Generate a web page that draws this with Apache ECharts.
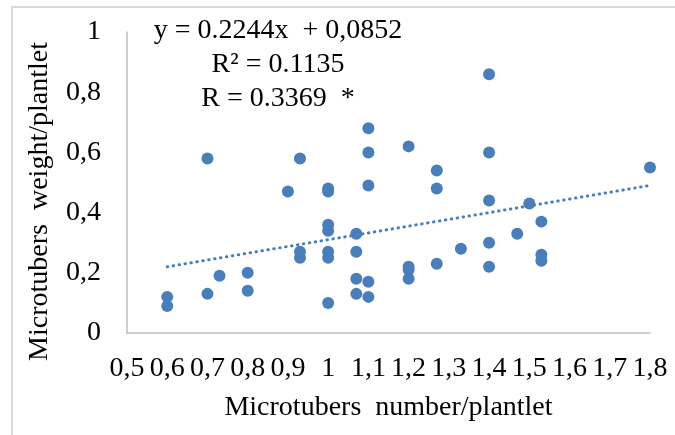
<!DOCTYPE html>
<html>
<head>
<meta charset="utf-8">
<script src="https://cdn.jsdelivr.net/npm/echarts@6/dist/echarts.min.js"></script>
<style>
  html, body { margin: 0; padding: 0; background: #fff; }
  #chart { width: 675px; height: 435px; }
</style>
</head>
<body>
<div id="chart"></div>
<script>
// microtubers number (x) vs weight (y) per plantlet
const numberPerPlantlet = [
  0.6, 0.6, 0.7, 0.7, 0.73, 0.8, 0.8, 0.9, 0.93, 0.93, 0.93,
  1.0, 1.0, 1.0, 1.0, 1.0, 1.0, 1.0,
  1.07, 1.07, 1.07, 1.07, 1.1, 1.1, 1.1, 1.1, 1.1,
  1.2, 1.2, 1.2, 1.2, 1.27, 1.27, 1.27, 1.33,
  1.4, 1.4, 1.4, 1.4, 1.4, 1.47, 1.5, 1.53, 1.53, 1.53, 1.8
];
const weightPerPlantlet = [
  0.12, 0.09, 0.58, 0.13, 0.19, 0.2, 0.14, 0.47, 0.58, 0.27, 0.25,
  0.48, 0.47, 0.36, 0.34, 0.27, 0.25, 0.1,
  0.33, 0.27, 0.18, 0.13, 0.68, 0.6, 0.49, 0.17, 0.12,
  0.62, 0.22, 0.21, 0.18, 0.54, 0.48, 0.23, 0.28,
  0.86, 0.6, 0.44, 0.3, 0.22, 0.33, 0.43, 0.37, 0.26, 0.24, 0.55
];
// linear trend line ends
const trendX = [0.6, 1.8];
const trendY = [0.22, 0.49];
const equationLines = ["y = 0.2244x  + 0,0852", "R² = 0.1135", "R = 0.3369  *"];

const blue = "#4A7EBB";
const font = "Liberation Serif";

const points = numberPerPlantlet.map((x, i) => [x, weightPerPlantlet[i]]);
const trend = trendX.map((x, i) => [x, trendY[i]]);
const comma = (v) => String(Math.round(v * 10) / 10).replace(".", ",");

const myChart = echarts.init(document.getElementById("chart"));
myChart.setOption({
  animation: false,
  backgroundColor: "#fff",
  grid: { left: 127, right: 25, top: 32, bottom: 102 },
  xAxis: {
    type: "value",
    min: 0.5,
    max: 1.8,
    interval: 0.1,
    name: "Microtubers  number/plantlet",
    nameLocation: "middle",
    nameGap: 61,
    nameTextStyle: { fontFamily: font, fontSize: 28, color: "#000" },
    axisLine: { lineStyle: { color: "#BFBFBF", width: 1.5 } },
    axisTick: { show: false },
    splitLine: { show: false },
    axisLabel: {
      margin: 22,
      fontFamily: font,
      fontSize: 28,
      color: "#000",
      formatter: comma,
    },
  },
  yAxis: {
    type: "value",
    min: 0,
    max: 1,
    interval: 0.2,
    name: "Microtubers  weight/plantlet",
    nameLocation: "middle",
    nameGap: 73,
    // the title sits a bit below the axis middle
    nameTextStyle: { fontFamily: font, fontSize: 28, color: "#000", padding: [0, 38, 0, 0] },
    axisLine: { show: true, lineStyle: { color: "#BFBFBF", width: 1.5 } },
    axisTick: { show: false },
    splitLine: { show: false },
    axisLabel: {
      margin: 26,
      fontFamily: font,
      fontSize: 28,
      color: "#000",
      formatter: comma,
    },
  },
  graphic: [
    {
      type: "rect",
      shape: { x: 12, y: 7, width: 700, height: 500 },
      style: { fill: "none", stroke: "#D9D9D9", lineWidth: 2 },
      silent: true,
    },
    {
      type: "text",
      x: 278,
      y: 14,
      style: {
        text: equationLines.join("\n"),
        fontFamily: font,
        fontSize: 28,
        lineHeight: 34,
        fill: "#000",
        align: "center",
      },
    },
  ],
  series: [
    {
      name: "trend",
      type: "line",
      data: trend,
      symbol: "none",
      z: 1,
      lineStyle: { color: blue, width: 3, type: [0.5, 5.5], cap: "round" },
    },
    {
      name: "plantlets",
      type: "scatter",
      data: points,
      symbolSize: 12,
      z: 2,
      itemStyle: { color: blue, opacity: 1 },
    },
  ],
});
</script>
</body>
</html>
